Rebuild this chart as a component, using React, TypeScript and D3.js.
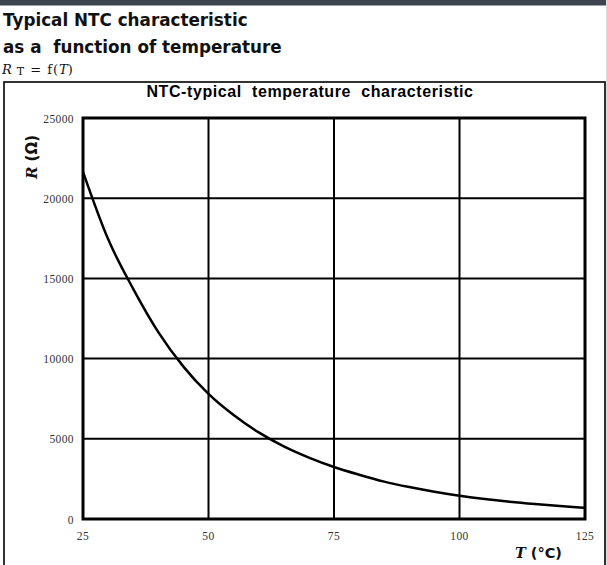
import React, { useEffect, useRef } from "react";
import * as d3 from "d3";

// (°C -> Ω)
const temps = [25, 30, 35, 40, 45, 50, 55, 60, 65, 70, 75, 80, 85, 90, 95, 100, 105, 110, 115, 120, 125];
const resist = [21650, 17450, 14350, 11650, 9500, 7800, 6480, 5400, 4530, 3830, 3240, 2760, 2330, 1990, 1700, 1450, 1240, 1070, 930, 810, 700];
const xTicks = [25, 50, 75, 100, 125];
const yTicks = [0, 5000, 10000, 15000, 20000, 25000];

const W = 607;
const H = 565;

export default function App() {
  const svgRef = useRef<SVGSVGElement>(null);

  useEffect(() => {
    if (!svgRef.current) return;
    const svg = d3.select(svgRef.current);
    svg.selectAll("*").remove();

    // dark header strip
    svg.append("rect").attr("x", 0).attr("y", 0).attr("width", W).attr("height", 5.5).attr("fill", "#3e4550");

    const heading = svg.append("g")
      .style("font-family", "'DejaVu Sans', Verdana, sans-serif")
      .style("font-weight", "bold")
      .style("font-size", "16.8px")
      .attr("fill", "#111");
    heading.append("text").attr("x", 3).attr("y", 26).text("Typical NTC characteristic");
    heading.append("text").attr("x", 3).attr("y", 53).attr("xml:space", "preserve").text("as a  function of temperature");

    const eq = svg.append("text").attr("x", 2).attr("y", 74)
      .style("font-family", "'DejaVu Serif', serif").style("font-size", "13px").attr("fill", "#111");
    eq.append("tspan").style("font-style", "italic").text("R");
    eq.append("tspan").attr("dx", 5).attr("dy", 1).style("font-size", "11px").text("T");
    eq.append("tspan").attr("dx", 6).attr("dy", -1).style("letter-spacing", "1px").text("= f(");
    eq.append("tspan").style("font-style", "italic").text("T");
    eq.append("tspan").text(")");

    // outer frame
    svg.append("rect")
      .attr("x", 4).attr("y", 82).attr("width", 601).attr("height", 500)
      .attr("fill", "none").attr("stroke", "#000").attr("stroke-width", 1.6);
    svg.append("line").attr("x1", 606.5).attr("x2", 606.5).attr("y1", 0).attr("y2", H)
      .attr("stroke", "#ddd").attr("stroke-width", 1);

    const plot = { left: 83, right: 585, top: 118, bottom: 519 };
    const x = d3.scaleLinear().domain([25, 125]).range([plot.left, plot.right]);
    const y = d3.scaleLinear().domain([0, 25000]).range([plot.bottom, plot.top]);

    svg.append("text")
      .attr("x", 310).attr("y", 97)
      .attr("text-anchor", "middle")
      .attr("xml:space", "preserve")
      .style("font-family", "'Liberation Sans', Arial, sans-serif")
      .style("font-weight", "bold").style("font-size", "16px")
      .style("letter-spacing", "0.6px")
      .text("NTC-typical  temperature  characteristic");

    // grid
    const g = svg.append("g");
    g.selectAll("line.v").data(xTicks.slice(1, -1)).join("line")
      .attr("x1", d => x(d)).attr("x2", d => x(d))
      .attr("y1", plot.top).attr("y2", plot.bottom)
      .attr("stroke", "#000").attr("stroke-width", 2);
    g.selectAll("line.h").data(yTicks.slice(1, -1)).join("line")
      .attr("x1", plot.left).attr("x2", plot.right)
      .attr("y1", d => y(d)).attr("y2", d => y(d))
      .attr("stroke", "#000").attr("stroke-width", 2);

    const line = d3.line<number>()
      .x((_, i) => x(temps[i]))
      .y(d => y(d))
      .curve(d3.curveMonotoneX);
    svg.append("path")
      .datum(resist)
      .attr("fill", "none")
      .attr("stroke", "#000")
      .attr("stroke-width", 2.5)
      .attr("d", line);

    svg.append("rect")
      .attr("x", plot.left).attr("y", plot.top)
      .attr("width", plot.right - plot.left).attr("height", plot.bottom - plot.top)
      .attr("fill", "none").attr("stroke", "#000").attr("stroke-width", 3);

    const tickFont = (sel: any) => sel
      .style("font-family", "'Liberation Serif', 'Times New Roman', serif")
      .style("font-size", "11.5px")
      .style("letter-spacing", "0.4px")
      .attr("fill", "#333");

    svg.append("g").call(tickFont).selectAll("text").data(yTicks).join("text")
      .attr("x", 74).attr("y", d => y(d) + 4.5)
      .attr("text-anchor", "end")
      .text(d => String(d));
    svg.append("g").call(tickFont).selectAll("text").data(xTicks).join("text")
      .attr("x", d => x(d)).attr("y", 540)
      .attr("text-anchor", "middle")
      .text(d => String(d));

    // axis titles
    const yl = svg.append("text")
      .attr("transform", "translate(37,157) rotate(-90)")
      .attr("text-anchor", "middle")
      .style("font-family", "'DejaVu Sans', Verdana, sans-serif")
      .style("font-weight", "bold").style("font-size", "15px").attr("fill", "#111");
    yl.append("tspan").style("font-family", "'DejaVu Serif', serif").style("font-style", "italic").text("R");
    yl.append("tspan").attr("xml:space", "preserve").text(" (Ω)");

    const xl = svg.append("text")
      .attr("x", 515).attr("y", 558)
      .style("font-family", "'DejaVu Sans', Verdana, sans-serif")
      .style("font-weight", "bold").style("font-size", "14.5px").attr("fill", "#111");
    xl.append("tspan").style("font-family", "'DejaVu Serif', serif").style("font-style", "italic").text("T");
    xl.append("tspan").attr("xml:space", "preserve").text(" (°C)");
  }, []);

  return (
    <svg
      ref={svgRef}
      width={W}
      height={H}
      style={{ position: "absolute", left: 0, top: 0, background: "#fff" }}
    />
  );
}
